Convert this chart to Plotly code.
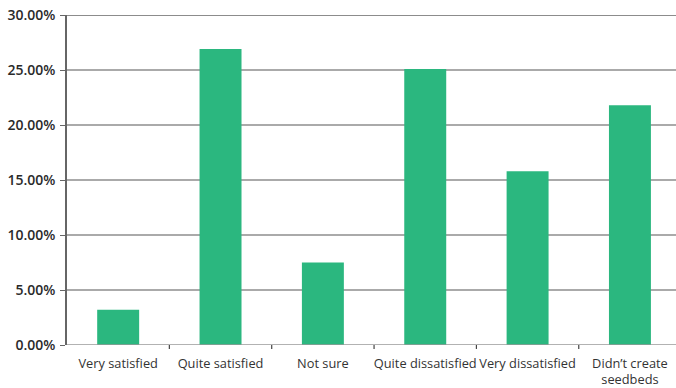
import plotly.graph_objects as go

categories = ["Very satisfied", "Quite satisfied", "Not sure", "Quite dissatisfied",
              "Very dissatisfied", "Didn\u2019t create<br>seedbeds"]
shares = [3.2, 26.9, 7.5, 25.1, 15.8, 21.8]
y_ticks = [0, 5, 10, 15, 20, 25, 30]
y_tick_labels = [f"{v:.2f}%" for v in y_ticks]

BAR = "#2BB77F"
FONT = dict(family="Open Sans, Lato, sans-serif", size=12.5, color="#333333")

fig = go.Figure(go.Bar(x=list(range(len(categories))), y=shares,
                       marker=dict(color=BAR, line=dict(width=0)), width=0.41))

fig.update_layout(
    width=676, height=388,
    margin=dict(l=67, r=0, t=15, b=43),
    paper_bgcolor="white", plot_bgcolor="white",
    font=FONT, showlegend=False, bargap=0.59,
)
fig.update_xaxes(
    range=[-0.5, 5.45], tickmode="array", tickvals=list(range(len(categories))),
    ticktext=categories, showgrid=False, zeroline=False,
    showline=False, ticks="", ticklen=0, ticklabelstandoff=9,
    tickfont=dict(family="Open Sans, sans-serif", size=12.8, color="#333333"),
)
# short tick marks between the categories
for b in [0.5, 1.5, 2.5, 3.5, 4.5]:
    fig.add_shape(type="line", xref="x", yref="paper", x0=b, x1=b, y0=0, y1=-0.012,
                  line=dict(color="#444444", width=1.2))
fig.update_yaxes(
    range=[0, 30], tickmode="array", tickvals=y_ticks, ticktext=y_tick_labels,
    showgrid=True, gridcolor="#AAAAAA", gridwidth=1.5, zeroline=False,
    showline=True, linecolor="#666666", linewidth=1.5,
    ticks="outside", ticklen=5, tickcolor="#666666", tickwidth=1.2,
    ticklabelstandoff=2,
    tickfont=dict(family="Open Sans, sans-serif", size=14, weight=600, color="#2a2a2a"),
)
# top frame line at 30%
fig.add_shape(type="line", xref="paper", yref="y", x0=0, x1=1, y0=30, y1=30,
              line=dict(color="#666666", width=1.5))
# baseline
fig.add_shape(type="line", xref="paper", yref="y", x0=0, x1=1, y0=0, y1=0,
              line=dict(color="#999999", width=1.5))

fig.write_html("out.html")
